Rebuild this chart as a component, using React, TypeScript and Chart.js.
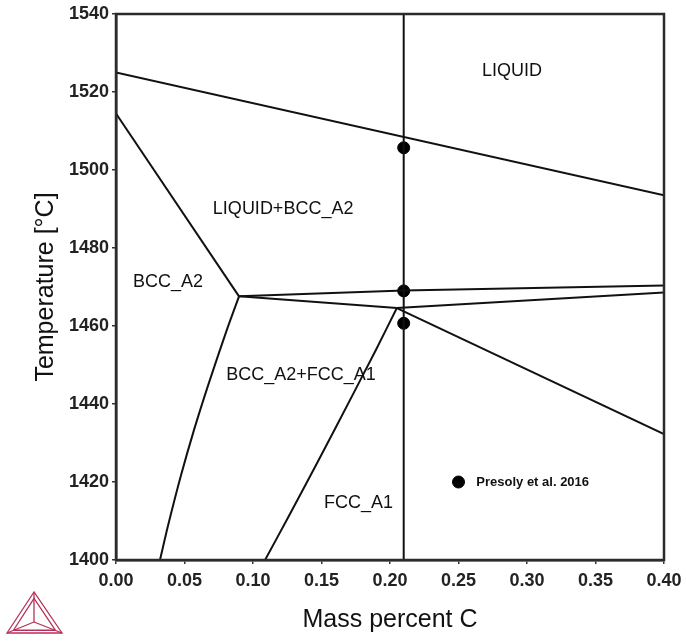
import React, { useEffect, useRef } from "react";
import { Chart, registerables } from "chart.js";

Chart.register(...registerables);

const FONT = "'Liberation Sans', Arial, sans-serif";

const xTicks = [0, 0.05, 0.1, 0.15, 0.2, 0.25, 0.3, 0.35, 0.4];
const yTicks = [1400, 1420, 1440, 1460, 1480, 1500, 1520, 1540];

const liquidus = [
  { x: 0, y: 1525 },
  { x: 0.4, y: 1493.5 },
];
const bccSolidus = [
  { x: 0, y: 1514.5 },
  { x: 0.0898, y: 1467.6 },
];
const periUpper = [
  { x: 0.0898, y: 1467.6 },
  { x: 0.21, y: 1469.1 },
  { x: 0.4, y: 1470.4 },
];
const periLower = [
  { x: 0.0898, y: 1467.6 },
  { x: 0.205, y: 1464.6 },
];
const fccUpper = [
  { x: 0.205, y: 1464.6 },
  { x: 0.4, y: 1468.6 },
];
const fccLowerRight = [
  { x: 0.205, y: 1464.6 },
  { x: 0.4, y: 1432.3 },
];
const bccFccBoundary = [
  { x: 0.0321, y: 1400 },
  { x: 0.0384, y: 1409.4 },
  { x: 0.0472, y: 1421.4 },
  { x: 0.0569, y: 1433.3 },
  { x: 0.0677, y: 1445.3 },
  { x: 0.0809, y: 1459.0 },
  { x: 0.0898, y: 1467.6 },
];
const fccBoundary = [
  { x: 0.1088, y: 1400 },
  { x: 0.1259, y: 1411.1 },
  { x: 0.1467, y: 1424.8 },
  { x: 0.1721, y: 1441.9 },
  { x: 0.1896, y: 1453.8 },
  { x: 0.205, y: 1464.6 },
];
const isopleth = [
  { x: 0.21, y: 1400 },
  { x: 0.21, y: 1540 },
];
const presolyPoints = [
  { x: 0.21, y: 1505.7 },
  { x: 0.21, y: 1469 },
  { x: 0.21, y: 1460.7 },
];
const legendPoint = [{ x: 0.25, y: 1420 }];

const regionLabels = ["LIQUID", "LIQUID+BCC_A2", "BCC_A2", "BCC_A2+FCC_A1", "FCC_A1"];
const regionX = [0.289, 0.122, 0.038, 0.135, 0.177];
const regionY = [1525.4, 1490, 1471.3, 1447.4, 1414.6];
const legendText = "Presoly et al. 2016";

const lineSets = [
  liquidus,
  bccSolidus,
  periUpper,
  periLower,
  fccUpper,
  fccLowerRight,
  isopleth,
];
const curveSets = [bccFccBoundary, fccBoundary];

const decorPlugin = {
  id: "decor",
  afterDatasetsDraw(chart: any) {
    const { ctx, chartArea, scales } = chart;
    const xs = scales.x;
    const ys = scales.y;
    ctx.save();
    ctx.strokeStyle = "#2b2b2b";
    ctx.lineWidth = 2.5;
    ctx.strokeRect(chartArea.left, chartArea.top, chartArea.right - chartArea.left, chartArea.bottom - chartArea.top);
    ctx.fillStyle = "#111";
    ctx.font = `18px ${FONT}`;
    ctx.textAlign = "center";
    ctx.textBaseline = "middle";
    regionLabels.forEach((t, i) => {
      ctx.fillText(t, xs.getPixelForValue(regionX[i]), ys.getPixelForValue(regionY[i]));
    });
    ctx.font = `bold 13px ${FONT}`;
    ctx.textAlign = "left";
    ctx.fillText(legendText, xs.getPixelForValue(0.263), ys.getPixelForValue(1420));
    ctx.restore();

    // logo
    ctx.save();
    ctx.strokeStyle = "#b5325a";
    ctx.lineWidth = 1.3;
    const ax = 34, ay = 592, lx = 7, ly = 633, rx = 62, ry = 633;
    const cx = 34, cy = 622;
    ctx.beginPath();
    ctx.moveTo(ax, ay); ctx.lineTo(lx, ly); ctx.lineTo(rx, ry); ctx.closePath();
    ctx.stroke();
    const s = 0.8;
    const gx = (ax + lx + rx) / 3, gy = (ay + ly + ry) / 3;
    ctx.beginPath();
    ctx.moveTo(gx + (ax - gx) * s, gy + (ay - gy) * s + 1);
    ctx.lineTo(gx + (lx - gx) * s + 1, gy + (ly - gy) * s);
    ctx.lineTo(gx + (rx - gx) * s - 1, gy + (ry - gy) * s);
    ctx.closePath();
    ctx.stroke();
    ctx.beginPath();
    ctx.moveTo(cx, cy); ctx.lineTo(ax, ay);
    ctx.moveTo(cx, cy); ctx.lineTo(lx, ly);
    ctx.moveTo(cx, cy); ctx.lineTo(rx, ry);
    ctx.stroke();
    ctx.restore();
  },
};

export default function App() {
  const ref = useRef<HTMLCanvasElement | null>(null);
  useEffect(() => {
    document.body.style.margin = "0";
    const canvas = ref.current!;
    const datasets: any[] = lineSets.map((d) => ({
      type: "line",
      data: d,
      borderColor: "#111",
      borderWidth: 2,
      pointRadius: 0,
      fill: false,
      tension: 0,
    }));
    curveSets.forEach((d) =>
      datasets.push({
        type: "line",
        data: d,
        borderColor: "#111",
        borderWidth: 2,
        pointRadius: 0,
        fill: false,
        tension: 0.3,
      })
    );
    datasets.push({
      type: "scatter",
      data: [...presolyPoints, ...legendPoint],
      backgroundColor: "#000",
      borderColor: "#000",
      pointRadius: 6,
      pointHoverRadius: 6,
    });
    const chart = new Chart(canvas, {
      type: "scatter",
      data: { datasets },
      options: {
        animation: false,
        responsive: false,
        events: [],
        layout: { padding: { top: 14, right: 22, left: 0, bottom: 0 } },
        plugins: { legend: { display: false }, tooltip: { enabled: false } },
        scales: {
          x: {
            type: "linear",
            min: 0,
            max: 0.4,
            afterBuildTicks: (s: any) => {
              s.ticks = xTicks.map((v) => ({ value: v }));
            },
            afterFit: (s: any) => {
              s.height = 84;
              s.paddingLeft = 0;
              s.paddingRight = 0;
            },
            ticks: {
              callback: (v: any) => Number(v).toFixed(2),
              font: { family: FONT, size: 18, weight: "bold" },
              color: "#222",
              padding: 6,
              maxRotation: 0,
            },
            grid: { drawOnChartArea: false, drawTicks: true, tickLength: 4, color: "#333", lineWidth: 1.5 },
            border: { display: true, color: "#2b2b2b", width: 2.5 },
            title: {
              display: true,
              text: "Mass percent C",
              font: { family: FONT, size: 25 },
              color: "#111",
              padding: { top: 0, bottom: 9 },
            },
          },
          y: {
            type: "linear",
            min: 1400,
            max: 1540,
            afterBuildTicks: (s: any) => {
              s.ticks = yTicks.map((v) => ({ value: v }));
            },
            afterFit: (s: any) => {
              s.width = 116;
              s.paddingTop = 0;
              s.paddingBottom = 0;
            },
            ticks: {
              callback: (v: any) => String(v),
              font: { family: FONT, size: 18, weight: "bold" },
              color: "#222",
              padding: 3,
            },
            grid: { drawOnChartArea: false, drawTicks: true, tickLength: 4, color: "#333", lineWidth: 1.5 },
            border: { display: true, color: "#2b2b2b", width: 2.5 },
            title: {
              display: true,
              text: "Temperature [°C]",
              font: { family: FONT, size: 25 },
              color: "#111",
              padding: { top: 31, bottom: 0 },
            },
          },
        },
      },
      plugins: [decorPlugin],
    } as any);
    return () => chart.destroy();
  }, []);
  return <canvas ref={ref} width={686} height={644} style={{ display: "block" }} />;
}
